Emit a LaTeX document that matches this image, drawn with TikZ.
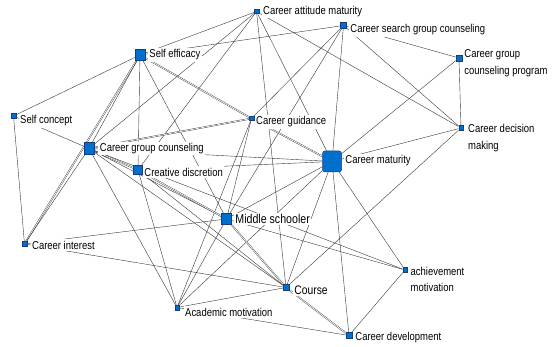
\documentclass[tikz,border=0pt]{standalone}
\usepackage{fontspec}
\setmainfont{Liberation Sans}[FakeStretch=0.83]
\usetikzlibrary{positioning,backgrounds}
\definecolor{nodeblue}{RGB}{0,112,206}
\definecolor{nodeline}{RGB}{22,60,124}
\definecolor{linkgray}{RGB}{55,55,55}
\tikzset{
  actor/.style={draw=nodeline, fill=nodeblue, line width=0.5pt, inner sep=0pt},
  dotxs/.style={actor, minimum size=4.5pt},
  dots/.style={actor, minimum size=6pt},
  dotm/.style={actor, minimum width=10pt, minimum height=11.5pt},
  dotl/.style={actor, minimum width=19pt, minimum height=21pt, rounded corners=2.5pt},
  tag/.style={fill=white, inner sep=1.5pt, font=\fontsize{11.4}{16.5}\selectfont, align=left},
  link/.style={draw=linkgray, line width=0.4pt},
  twin/.style={link, double=white, double distance=0.7pt}
}
\begin{document}
\begin{tikzpicture}[x=1pt, y=-1pt]
  \useasboundingbox (0,0) rectangle (554,347);

  \node[dotxs] (attmat) at (256.5,11.5) {};
  \node[dots] (searchgc) at (343.5,25.5) {};
  \node[dotm] (selfeff) at (140,55) {};
  \node[dots] (gcprog) at (459,58) {};
  \node[dotxs] (sconcept) at (13.5,116) {};
  \node[dotxs] (guidance) at (251.5,118.5) {};
  \node[dotxs] (decision) at (461,128) {};
  \node[dotm] (groupc) at (89,148.5) {};
  \node[dotl] (maturity) at (332,161.5) {};
  \node[actor, minimum size=9pt] (creative) at (138,170) {};
  \node[dotm] (middle) at (226.5,219) {};
  \node[dotxs] (interest) at (24.5,244) {};
  \node[dotxs] (achieve) at (405,270) {};
  \node[dots] (course) at (286,287.5) {};
  \node[dotxs] (academic) at (177,307.5) {};
  \node[dots] (develop) at (349,335.5) {};

  \node[tag, right=2.5pt of attmat] (attmat-t) {Career attitude maturity};
  \node[tag, right=2pt of searchgc, yshift=-4.5pt] (searchgc-t) {Career search group counseling};
  \node[tag, right=2.5pt of selfeff] (selfeff-t) {Self efficacy};
  \node[tag, right=0.5pt of gcprog, yshift=-5pt] (gcprog-t) {Career group\\counseling program};
  \node[tag, right=2.5pt of sconcept, yshift=-5pt] (sconcept-t) {Self concept};
  \node[tag, right=0.5pt of guidance, yshift=-3.5pt] (guidance-t) {Career guidance};
  \node[tag, right=3pt of decision, yshift=-10pt] (decision-t) {Career decision\\making};
  \node[tag, right=4pt of groupc] (groupc-t) {Career group counseling};
  \node[tag, right=2pt of maturity, yshift=1pt] (maturity-t) {Career maturity};
  \node[tag, right=0pt of creative, yshift=-2pt] (creative-t) {Creative discretion};
  \node[tag, right=2pt of middle, font=\fontsize{12.8}{14}\selectfont] (middle-t) {Middle schooler};
  \node[tag, right=3.5pt of interest, yshift=-1pt] (interest-t) {Career interest};
  \node[tag, right=1.5pt of achieve, yshift=-9.5pt] (achieve-t) {achievement\\motivation};
  \node[tag, right=3.5pt of course, yshift=-2.5pt, font=\fontsize{12.4}{14}\selectfont] (course-t) {Course};
  \node[tag, right=4pt of academic, yshift=-4.5pt] (academic-t) {Academic motivation};
  \node[tag, right=1.5pt of develop, yshift=-2.5pt] (develop-t) {Career development};

  \begin{scope}[on background layer]
    \draw[link] (sconcept) -- (selfeff);
    \draw[link] (sconcept) -- (groupc);
    \draw[link] (sconcept) -- (interest);
    \draw[link] (selfeff) -- (attmat);
    \draw[link] (selfeff) -- (searchgc);
    \draw[twin] (selfeff) -- (interest);
    \draw[link] (selfeff) -- (groupc);
    \draw[link] (selfeff) -- (creative);
    \draw[link] (selfeff) -- (middle);
    \draw[twin] (selfeff) -- (guidance);
    \draw[link] (attmat) -- (groupc);
    \draw[link] (attmat) -- (creative);
    \draw[link] (attmat) -- (course);
    \draw[link] (attmat) -- (maturity);
    \draw[link] (attmat) -- (decision);
    \draw[link] (searchgc) -- (guidance);
    \draw[link] (searchgc) -- (middle);
    \draw[link] (searchgc) -- (maturity);
    \draw[link] (searchgc) -- (gcprog);
    \draw[link] (searchgc) -- (decision);
    \draw[link] (gcprog) -- (decision);
    \draw[link] (gcprog) -- (maturity);
    \draw[link] (decision) -- (maturity);
    \draw[link] (decision) -- (course);
    \draw[twin] (guidance) -- (maturity);
    \draw[twin] (guidance) -- (groupc);
    \draw[link] (guidance) -- (middle);
    \draw[link] (guidance) -- (academic);
    \draw[link] (groupc) -- (interest);
    \draw[link] (groupc) -- (maturity);
    \draw[twin] (groupc) -- (creative);
    \draw[link] (groupc) -- (achieve);
    \draw[link] (groupc) -- (course);
    \draw[link] (groupc) -- (academic);
    \draw[link] (groupc) -- (middle);
    \draw[link] (creative) -- (maturity);
    \draw[twin] (creative) -- (middle);
    \draw[link] (creative) -- (academic);
    \draw[link] (creative) -- (course);
    \draw[link] (maturity) -- (middle);
    \draw[link] (maturity) -- (course);
    \draw[link] (maturity) -- (achieve);
    \draw[link] (maturity) -- (develop);
    \draw[link] (maturity) -- (academic);
    \draw[link] (interest) -- (middle);
    \draw[link] (interest) -- (course);
    \draw[twin] (middle) -- (course);
    \draw[link] (middle) -- (achieve);
    \draw[link] (middle) -- (academic);
    \draw[link] (academic) -- (course);
    \draw[link] (academic) -- (develop);
    \draw[twin] (course) -- (develop);
    \draw[link] (achieve) -- (develop);
  \end{scope}
\end{tikzpicture}
\end{document}
